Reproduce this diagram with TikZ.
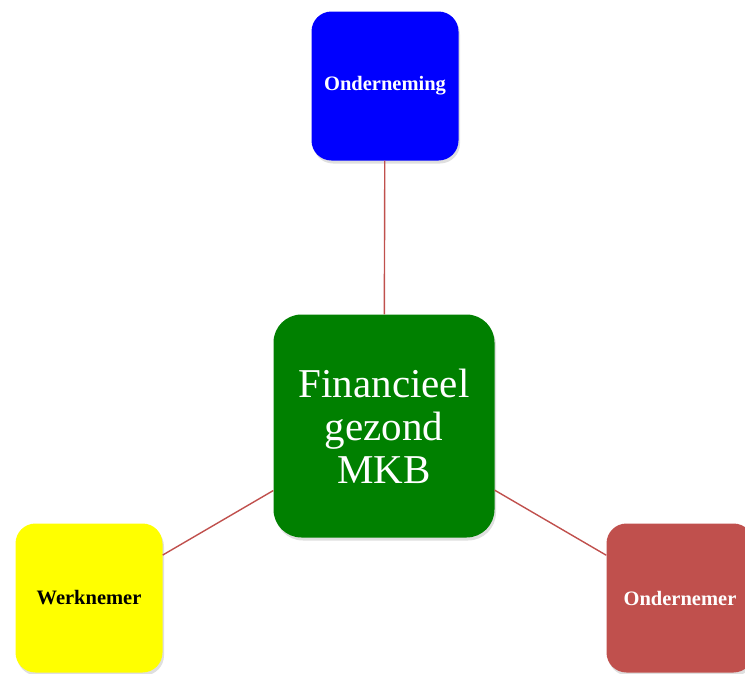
\documentclass[tikz,border=0pt]{standalone}
\usepackage{fontspec}
\setmainfont{Liberation Serif}
\usetikzlibrary{shadows}
\definecolor{boxred}{HTML}{C0504D}
\definecolor{boxgreen}{HTML}{008000}
\definecolor{boxblue}{HTML}{0000FF}
\definecolor{boxyellow}{HTML}{FFFF00}
\begin{document}
\begin{tikzpicture}[
        x=1pt, y=-1pt,
        smallbox/.style={rounded corners=20pt, minimum width=147pt, minimum height=149pt,
            inner sep=0pt, align=center, font=\fontsize{20.5}{24}\selectfont\bfseries,
            drop shadow={shadow xshift=1.5pt, shadow yshift=-3pt, opacity=0.25}},
        mainbox/.style={rounded corners=28pt, minimum width=221pt, minimum height=223pt,
            inner sep=0pt, align=center, fill=boxgreen, text=white,
            font=\fontsize{41}{43}\selectfont,
            drop shadow={shadow xshift=1.5pt, shadow yshift=-3pt, opacity=0.25}},
        link/.style={draw=boxred, line width=1.4pt},
    ]
        \useasboundingbox (0,0) rectangle (745,673);

        \node[mainbox] (mkb) at (384, 426) {Financieel\\gezond\\MKB};
        \node[smallbox, fill=boxblue, text=white] (onderneming) at (385, 86) {Onderneming};
        \node[smallbox, fill=boxyellow, text=black] (werknemer) at (89, 598) {Werknemer};
        \node[smallbox, fill=boxred, text=white] (ondernemer) at (680, 598) {Ondernemer};

        \draw[link] (mkb) -- (onderneming);
        \draw[link] (mkb) -- (werknemer);
        \draw[link] (mkb) -- (ondernemer);
    \end{tikzpicture}
\end{document}
